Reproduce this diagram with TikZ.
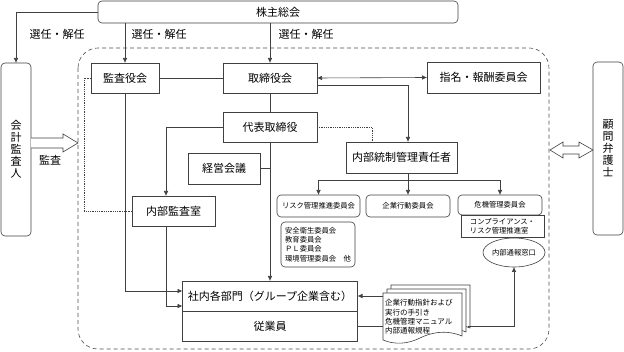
\documentclass[tikz,border=0pt]{standalone}
\usepackage{fontspec}
\setmainfont{Noto Sans CJK JP}
\usetikzlibrary{arrows.meta,shapes.geometric}
\begin{document}
\begin{tikzpicture}[x=1pt,y=-1pt,
  line width=0.6pt,
  every node/.style={inner sep=0pt, outer sep=0pt},
  ln/.style={draw=black!75},
  box/.style={draw=black!75, fill=white, font=\fontsize{11}{13}\selectfont},
  rbox/.style={box, rounded corners=4pt},
  sbox/.style={draw=black!75, fill=white, rounded corners=4pt, font=\fontsize{7.3}{9.3}\selectfont},
  lbl/.style={font=\fontsize{11}{13}\selectfont},
  arr/.style={-{Latex[length=5pt,width=4.5pt]}},
  darr/.style={{Latex[length=5pt,width=4.5pt]}-{Latex[length=5pt,width=4.5pt]}},
  dots/.style={draw=black!75, densely dotted, line width=0.8pt},
]
\useasboundingbox (0,0) rectangle (624,352);

% dashed company border
\draw[black!70, dash pattern=on 4pt off 3pt, rounded corners=20pt] (78,48) rectangle (549,349);

% nodes
\node[rbox, minimum width=360pt, minimum height=22pt] (kabu) at (278,12) {株主総会};
\node[rbox, minimum width=30pt, minimum height=173pt, align=center, font=\fontsize{11}{12}\selectfont] (kaikei) at (16,149.5) {会\\計\\監\\査\\人};
\node[rbox, minimum width=30pt, minimum height=173pt, align=center, font=\fontsize{11}{12}\selectfont] (komon) at (608,148.5) {顧\\問\\弁\\護\\士};
\node[box, minimum width=68pt, minimum height=30pt] (kansayaku) at (125,78) {監査役会};
\node[box, minimum width=94pt, minimum height=30pt] (torishimari) at (270,78) {取締役会};
\node[box, minimum width=113pt, minimum height=31pt] (shimei) at (483.5,77.5) {指名・報酬委員会};
\node[box, minimum width=94pt, minimum height=30pt] (daihyo) at (270,127) {代表取締役};
\node[box, minimum width=72pt, minimum height=31pt] (keiei) at (224,168.5) {経営会議};
\node[box, minimum width=83pt, minimum height=30pt] (naibu) at (173.5,211) {内部監査室};
\node[box, minimum width=111pt, minimum height=31pt] (naibutosei) at (401.5,157.5) {内部統制管理責任者};
\node[sbox, minimum width=83pt, minimum height=22pt] (risk) at (318.5,206) {リスク管理推進委員会};
\node[sbox, minimum width=84pt, minimum height=22pt] (kigyo) at (408,206) {企業行動委員会};
\node[sbox, minimum width=84pt, minimum height=20pt] (kiki) at (500,205) {危機管理委員会};
\node[sbox, rounded corners=0pt, minimum width=83pt, minimum height=22pt, align=left] (comp) at (502.5,226) {コンプライアンス・\\リスク管理推進室};
\node[sbox, minimum width=74pt, minimum height=45pt, align=left] (anzen) at (318,244.5) {安全衛生委員会\\教育委員会\\ＰＬ委員会\\環境管理委員会　他};
\node[box, minimum width=175pt, minimum height=30pt] (shanai) at (270,296) {社内各部門（グループ企業含む）};
\node[box, minimum width=175pt, minimum height=30pt] (jugyoin) at (270,326) {従業員};
\node[sbox, ellipse, minimum width=62pt, minimum height=29pt] (tsuho) at (514,252.5) {内部通報窓口};

% documents stack
\node[minimum width=85pt, minimum height=57pt] (docs) at (425.5,313.5) {};
\foreach \s in {8,4,0}{
  \begin{scope}[shift={(\s,-\s)}]
    \draw[black!75, fill=white] (383,293) -- (462,293) -- (462,336)
      .. controls (445,329) and (430,333) .. (420,338)
      .. controls (408,344) and (395,345) .. (383,340) -- cycle;
  \end{scope}
}
\node[anchor=west, align=left, font=\fontsize{7.5}{9.3}\selectfont] (doctext) at (385,317) {企業行動指針および\\実行の手引き\\危機管理マニュアル\\内部通報規程};

% labels
\node[lbl] (l1) at (57,34) {選任・解任};
\node[lbl] (l2) at (159,34) {選任・解任};
\node[lbl] (l3) at (306,34) {選任・解任};
\node[lbl] (l4) at (50,160) {監査};

% shareholders connectors
\draw[ln,arr] (kabu.west) -| (kaikei.north);
\draw[ln,arr] (kansayaku.north |- kabu.south) -- (kansayaku.north);
\draw[ln,arr] (torishimari.north |- kabu.south) -- (torishimari.north);

% board connectors
\draw[ln] (kansayaku.east) -- (torishimari.west);
\draw[ln,darr] (torishimari.east) -- (shimei.west);
\coordinate (hub) at (408,180);
\coordinate (dt) at (372,142);
\draw[ln,arr] ([yshift=-7pt]torishimari.east) -| (hub |- naibutosei.north);
\draw[ln] (torishimari.south) -- (daihyo.north);
\draw[ln,arr] (daihyo.south) -- (shanai.north);
\draw[ln] (keiei.east) -- (keiei.east -| daihyo.south);
\draw[ln,arr] (daihyo.west) -| ([xshift=-7.5pt]naibu.north);
\draw[dots] (daihyo.east) -| (dt);
\draw[dots] (kansayaku.west) -- ++(-7,0) |- (naibu.west);
\draw[ln,arr] (kansayaku.south) |- ([yshift=5pt]shanai.west);
\draw[ln,arr] ([xshift=-7.5pt]naibu.south) |- ([yshift=-10pt]shanai.west);

% internal control
\draw[ln] (hub |- naibutosei.south) -- (hub);
\draw[ln,arr] (hub) -| (risk.north);
\draw[ln,arr] (hub) -| (kiki.north);
\draw[ln,arr] (hub) -- (kigyo.north);

% documents
\draw[ln,arr] (docs.west |- shanai.east) -- (shanai.east);
\draw[ln] (jugyoin.east) -- (docs.west |- jugyoin.east);
\draw[ln,arr] (docs.east |- jugyoin.east) -| (tsuho.south);

% hollow arrows
\draw[black!75, fill=white] (kaikei.east |- 0,138) -- (63,138) -- (63,134) -- (78,143) -- (63,152) -- (63,148) -- (kaikei.east |- 0,148);
\draw[black!75, fill=white] (550,150) -- (563,142) -- (563,146) -- (579,146) -- (579,142) -- (komon.west |- 0,150) -- (579,158) -- (579,154) -- (563,154) -- (563,158) -- cycle;
\end{tikzpicture}
\end{document}
